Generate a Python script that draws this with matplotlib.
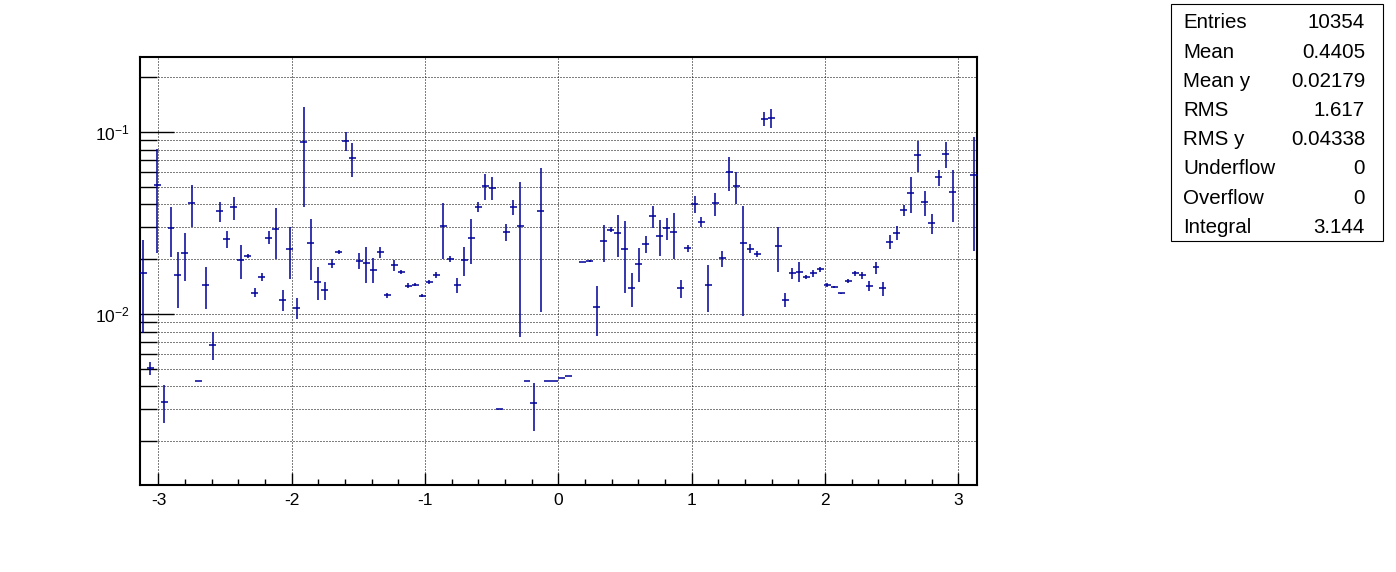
import numpy as np
import matplotlib.pyplot as plt
from matplotlib.patches import Rectangle
from matplotlib.ticker import LogLocator, NullFormatter, FixedLocator, FixedFormatter

plt.rcParams['font.family'] = ['Liberation Sans', 'DejaVu Sans']
plt.rcParams['mathtext.fontset'] = 'custom'
plt.rcParams['mathtext.rm'] = 'Liberation Sans'
plt.rcParams['mathtext.it'] = 'Liberation Sans'

# profile: 120 bins from -pi to pi (nan = empty bin)
n_bins = 120
mean = [
    0.0167, 0.00502, 0.0512, 0.00330, 0.0296, 0.0164, 0.0215, 0.0406, 0.00426, 0.0144,
    0.00675, 0.0368, 0.0258, 0.0385, 0.0197, 0.0208, 0.0131, 0.0159, 0.0263, 0.0292,
    0.0120, 0.0228, 0.0108, 0.0882, 0.0244, 0.0150, 0.0135, 0.0189, 0.0219, 0.0895,
    0.0719, 0.0196, 0.0191, 0.0175, 0.0218, 0.0127, 0.0185, 0.0170, 0.0143, 0.0145,
    0.0126, 0.0150, 0.0164, 0.0304, 0.0201, 0.0144, 0.0198, 0.0261, 0.0387, 0.0505,
    0.0494, 0.00299, 0.0282, 0.0388, 0.0304, 0.00426, 0.00322, 0.0369, 0.00428, 0.00428,
    0.00446, 0.00454, np.nan, 0.0192, 0.0195, 0.0109, 0.0251, 0.0290, 0.0277, 0.0228,
    0.0138, 0.0189, 0.0242, 0.0345, 0.0268, 0.0297, 0.0281, 0.0138, 0.0230, 0.0401,
    0.0319, 0.0144, 0.0405, 0.0202, 0.0602, 0.0502, 0.0245, 0.0228, 0.0213, 0.1183,
    0.1192, 0.0235, 0.0120, 0.0167, 0.0171, 0.0160, 0.0167, 0.0176, 0.0144, 0.0140,
    0.0130, 0.0151, 0.0167, 0.0163, 0.0143, 0.0180, 0.0138, 0.0249, 0.0280, 0.0371,
    0.0462, 0.0749, 0.0411, 0.0315, 0.0564, 0.0760, 0.0469, np.nan, np.nan, 0.0582,
]
err = [
    0.0088, 0.00042, 0.0297, 0.00079, 0.0091, 0.0056, 0.0064, 0.0105, 0.0, 0.0038,
    0.00118, 0.0046, 0.0028, 0.0057, 0.0042, 0.0005, 0.0007, 0.0008, 0.0022, 0.0092,
    0.0016, 0.0073, 0.0014, 0.0493, 0.0090, 0.0031, 0.0015, 0.0011, 0.0006, 0.0109,
    0.0152, 0.0019, 0.0043, 0.0028, 0.0016, 0.0004, 0.0012, 0.0004, 0.0004, 0.0003,
    0.0002, 0.0004, 0.0006, 0.0104, 0.0007, 0.0014, 0.0036, 0.0073, 0.0024, 0.0082,
    0.0072, 0.0, 0.0031, 0.0036, 0.0229, 0.0, 0.00095, 0.0267, 0.0, 0.0,
    0.0, 0.0, np.nan, 0.0, 0.0003, 0.0033, 0.0057, 0.0009, 0.0072, 0.0098,
    0.0029, 0.0040, 0.0026, 0.0047, 0.0061, 0.0041, 0.0080, 0.0016, 0.0010, 0.0042,
    0.0020, 0.0042, 0.0058, 0.0021, 0.0127, 0.0101, 0.0148, 0.0013, 0.0008, 0.0106,
    0.0142, 0.0064, 0.0011, 0.0011, 0.0021, 0.0004, 0.0008, 0.0005, 0.0004, 0.0002,
    0.0001, 0.0004, 0.0006, 0.0007, 0.0009, 0.0014, 0.0012, 0.0022, 0.0025, 0.0024,
    0.0103, 0.0148, 0.0065, 0.0039, 0.0057, 0.0126, 0.0147, np.nan, np.nan, 0.0360,
]

stat_names = ['Entries', 'Mean', 'Mean y', 'RMS', 'RMS y', 'Underflow', 'Overflow', 'Integral']
stat_values = ['10354', '0.4405', '0.02179', '1.617', '0.04338', '0', '0', '3.144']

edges = np.linspace(-np.pi, np.pi, n_bins + 1)
centers = 0.5 * (edges[:-1] + edges[1:])
half = 0.5 * (edges[1] - edges[0])
mean = np.array(mean)
err = np.array(err)
ok = ~np.isnan(mean)

W, H = 1396, 572
fig = plt.figure(figsize=(W / 100, H / 100), dpi=100)
ax = fig.add_axes([0.1, 0.152, 0.6, 0.749])

col = '#000099'
ax.errorbar(centers[ok], mean[ok], yerr=err[ok], xerr=half, fmt='none',
            ecolor=col, elinewidth=1.1, capsize=0, zorder=3)

ax.set_yscale('log')
ax.set_xlim(-np.pi, np.pi)
ax.set_ylim(0.001146, 0.2597)

ax.xaxis.set_major_locator(FixedLocator([-3, -2, -1, 0, 1, 2, 3]))
ax.xaxis.set_major_formatter(FixedFormatter(['-3', '-2', '-1', '0', '1', '2', '3']))
ax.xaxis.set_minor_locator(FixedLocator(np.arange(-3.0, 3.01, 0.2)))
ax.yaxis.set_major_locator(FixedLocator([0.01, 0.1]))
ax.yaxis.set_major_formatter(FixedFormatter([r'$10^{-2}$', r'$10^{-1}$']))
ax.yaxis.set_minor_locator(LogLocator(base=10, subs=np.arange(2, 10)))
ax.yaxis.set_minor_formatter(NullFormatter())

ax.tick_params(axis='x', which='major', direction='in', length=8.6, width=1.0,
               labelsize=12.5, pad=5.5, top=False)
ax.tick_params(axis='x', which='minor', direction='in', length=4.3, width=1.0, top=False)
ax.tick_params(axis='y', which='major', direction='in', length=24.5, width=1.0,
               labelsize=12.5, pad=7, right=False)
ax.tick_params(axis='y', which='minor', direction='in', length=12.2, width=1.0, right=False)

ax.grid(True, axis='x', which='major', color='black', lw=0.72, linestyle=(0, (1, 2)))
ax.grid(True, axis='y', which='both', color='black', lw=0.72, linestyle=(0, (1, 2)))
ax.set_axisbelow(True)
for s in ax.spines.values():
    s.set_linewidth(1.5)
    s.set_color('black')

# stats box
fig.patches.append(Rectangle((1171 / W, 1 - 241 / H), 212 / W, 237 / H,
                             transform=fig.transFigure, fill=True, facecolor='white',
                             edgecolor='black', lw=0.8))
for i, (name, val) in enumerate(zip(stat_names, stat_values)):
    yb = 1 - (28.3 + 29.2 * i) / H
    fig.text(1183 / W, yb, name, fontsize=14.8, ha='left', va='baseline')
    fig.text(1365 / W, yb, val, fontsize=14.8, ha='right', va='baseline')

fig.savefig('out.png', dpi=100)
